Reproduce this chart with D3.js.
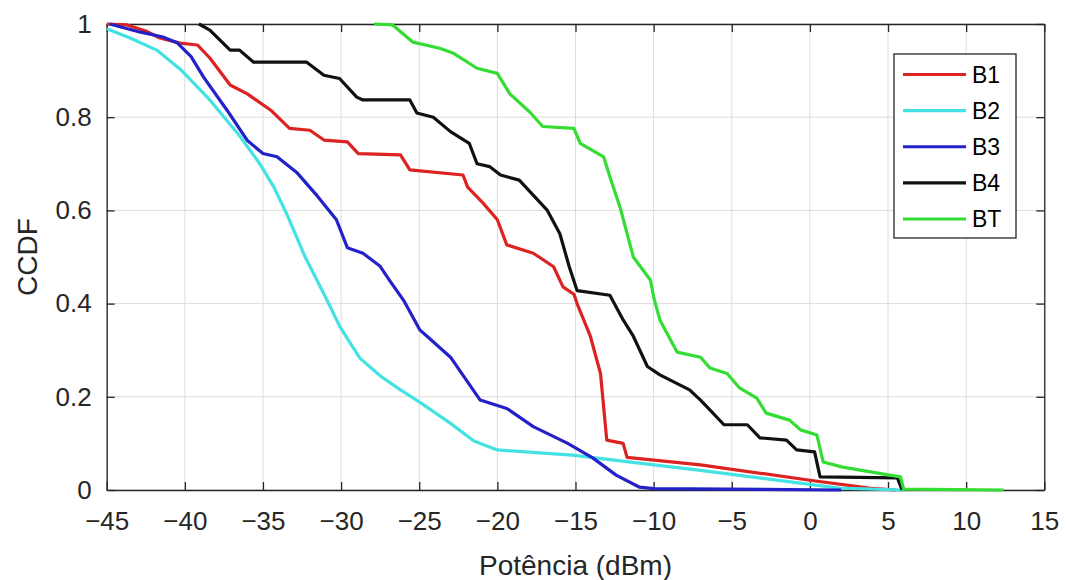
<!DOCTYPE html>
<html>
<head>
<meta charset="utf-8">
<script src="https://cdn.jsdelivr.net/npm/d3@7"></script>
<style>
  html, body { margin: 0; padding: 0; background: #fff; }
  svg { display: block; font-family: "Liberation Sans", Arial, Helvetica, sans-serif; }
</style>
</head>
<body>
<svg id="chart" width="1066" height="580"></svg>
<script>
/* ── Data ──────────────────────────────────────────────────── */
const xTicks = [-45, -40, -35, -30, -25, -20, -15, -10, -5, 0, 5, 10, 15];
const yTicks = [0, 0.2, 0.4, 0.6, 0.8, 1];
const yTickLabels = ['0', '0.2', '0.4', '0.6', '0.8', '1'];

const b1 = [[-45,1.0],[-43.7,0.998],[-42.5,0.985],[-41.6,0.97],[-40.3,0.959],[-39.2,0.955],[-38.4,0.927],
  [-37.1,0.869],[-36.0,0.85],[-34.5,0.815],[-33.3,0.776],[-32.0,0.772],[-31.1,0.751],[-29.6,0.747],
  [-28.9,0.722],[-26.2,0.719],[-25.6,0.687],[-22.2,0.676],[-21.9,0.65],[-20.9,0.615],[-20.0,0.58],
  [-19.4,0.526],[-17.7,0.508],[-16.4,0.479],[-15.8,0.436],[-15.1,0.42],[-14.9,0.40],[-14.05,0.33],
  [-13.4,0.25],[-13.0,0.107],[-11.95,0.10],[-11.7,0.07],[-7.0,0.054],[0,0.021],[3.8,0.004],[5.5,0.0]];

const b2 = [[-45,0.99],[-43.5,0.97],[-41.8,0.944],[-40.2,0.9],[-38.4,0.837],[-36.5,0.76],[-35.2,0.70],[-34.3,0.65],
  [-33.5,0.594],[-32.3,0.5],[-31.0,0.414],[-30.07,0.35],[-28.8,0.283],[-27.5,0.245],[-26.2,0.215],
  [-24.9,0.187],[-23.0,0.143],[-21.5,0.105],[-20.0,0.086],[-17.5,0.08],[-15.2,0.075],[-12,0.062],
  [-7.0,0.042],[-3,0.025],[0,0.012],[1.9,0.004],[6.0,0.0]];

const b3 = [[-44.8,1.0],[-42.9,0.983],[-41.4,0.972],[-40.5,0.96],[-39.6,0.93],[-38.8,0.886],[-37.3,0.815],
  [-36.0,0.75],[-35.0,0.722],[-34.1,0.715],[-32.8,0.68],[-31.5,0.63],[-30.3,0.58],[-29.6,0.52],
  [-28.6,0.508],[-27.5,0.48],[-26.9,0.45],[-26.0,0.407],[-24.95,0.343],[-24.5,0.33],[-23.0,0.285],
  [-21.1,0.193],[-19.4,0.175],[-17.7,0.136],[-15.5,0.10],[-13.9,0.069],[-12.4,0.032],[-10.9,0.006],
  [-10.0,0.003],[2.0,0.0]];

const b4 = [[-39.1,1.0],[-38.4,0.987],[-37.1,0.944],[-36.5,0.944],[-35.6,0.918],[-32.2,0.918],[-31.1,0.89],
  [-30.1,0.883],[-29.0,0.843],[-28.6,0.837],[-25.6,0.837],[-25.15,0.809],[-24.1,0.80],[-23.0,0.769],
  [-21.8,0.744],[-21.3,0.70],[-20.5,0.694],[-19.8,0.676],[-18.6,0.665],[-16.8,0.60],[-16.0,0.55],
  [-15.4,0.479],[-14.9,0.428],[-12.8,0.418],[-11.95,0.365],[-11.3,0.33],[-10.4,0.265],[-9.6,0.247],
  [-7.7,0.215],[-7.0,0.193],[-6.4,0.172],[-5.5,0.14],[-4.0,0.14],[-3.2,0.112],[-1.5,0.107],
  [-0.85,0.086],[0.3,0.082],[0.65,0.028],[5.6,0.026],[5.9,0.0]];

const bt = [[-27.9,1.0],[-26.7,0.998],[-25.4,0.961],[-23.7,0.948],[-22.8,0.937],[-21.3,0.905],[-20.0,0.894],
  [-19.2,0.85],[-17.9,0.81],[-17.1,0.78],[-15.1,0.776],[-14.7,0.744],[-13.2,0.715],[-12.8,0.672],
  [-12.15,0.607],[-11.3,0.50],[-10.2,0.45],[-10.0,0.414],[-9.6,0.365],[-8.5,0.296],[-7.0,0.285],
  [-6.4,0.262],[-5.3,0.25],[-4.5,0.219],[-3.4,0.197],[-2.8,0.165],[-1.3,0.15],[-0.6,0.129],
  [0.45,0.118],[0.85,0.06],[2.1,0.049],[5.1,0.032],[5.8,0.028],[6.0,0.002],[12.4,0.0]];

const seriesNames = ['B1', 'B2', 'B3', 'B4', 'BT'];
const seriesData = [b1, b2, b3, b4, bt];
const seriesColors = ['#dd2222', '#44e2e2', '#2222c8', '#111111', '#33dd33'];

/* ── Layout ────────────────────────────────────────────────── */
const M = { left: 106.7, right: 1044.3, top: 24, bottom: 490 };
const INK = '#262626';
const TICK = 8;

const svg = d3.select('#chart');
const x = d3.scaleLinear().domain([-45, 15]).range([M.left, M.right]);
const y = d3.scaleLinear().domain([0, 1]).range([M.bottom, M.top]);

// Grid
const grid = svg.append('g').attr('class', 'grid')
  .attr('stroke', '#dcdcdc').attr('stroke-width', 1);
grid.selectAll('line.gx').data(xTicks).enter().append('line')
  .attr('x1', d => x(d)).attr('x2', d => x(d))
  .attr('y1', M.top).attr('y2', M.bottom);
grid.selectAll('line.gy').data(yTicks).enter().append('line')
  .attr('x1', M.left).attr('x2', M.right)
  .attr('y1', d => y(d)).attr('y2', d => y(d));

// Axes (inward ticks, box on)
function styleAxis(g) {
  g.select('.domain').attr('stroke', INK).attr('stroke-width', 1.3);
  g.selectAll('.tick line').attr('stroke', INK).attr('stroke-width', 1.3);
  g.selectAll('.tick text').attr('fill', INK)
    .attr('font-size', 26).attr('font-family', 'Liberation Sans, Arial, sans-serif');
}

svg.append('g')
  .attr('transform', `translate(0,${M.bottom})`)
  .call(d3.axisBottom(x).tickValues(xTicks).tickSizeInner(-TICK).tickSizeOuter(0).tickPadding(22))
  .call(styleAxis);

svg.append('g')
  .attr('transform', `translate(0,${M.top})`)
  .call(d3.axisTop(x).tickValues(xTicks).tickSizeInner(-TICK).tickSizeOuter(0).tickFormat(''))
  .call(styleAxis);

svg.append('g')
  .attr('transform', `translate(${M.left},0)`)
  .call(d3.axisLeft(y).tickValues(yTicks).tickSizeInner(-TICK).tickSizeOuter(0).tickPadding(15)
    .tickFormat((d, i) => yTickLabels[i]))
  .call(styleAxis);

svg.append('g')
  .attr('transform', `translate(${M.right},0)`)
  .call(d3.axisRight(y).tickValues(yTicks).tickSizeInner(-TICK).tickSizeOuter(0).tickFormat(''))
  .call(styleAxis);

// Axis labels
svg.append('text')
  .attr('x', (M.left + M.right) / 2).attr('y', 575)
  .attr('text-anchor', 'middle').attr('font-size', 28).attr('fill', INK)
  .text('Potência (dBm)');

svg.append('text')
  .attr('transform', `translate(37,257) rotate(-90)`)
  .attr('text-anchor', 'middle').attr('font-size', 28).attr('fill', INK)
  .text('CCDF');

/* ── Curves ────────────────────────────────────────────────── */
const line = d3.line().x(d => x(d[0])).y(d => y(d[1]));
svg.append('g').selectAll('path').data(seriesData).enter().append('path')
  .attr('d', line)
  .attr('fill', 'none')
  .attr('stroke', (d, i) => seriesColors[i])
  .attr('stroke-width', 3.2)
  .attr('stroke-linejoin', 'round');

/* ── Legend ────────────────────────────────────────────────── */
const legend = svg.append('g').attr('class', 'legend');
legend.append('rect')
  .attr('x', 894).attr('y', 54).attr('width', 122).attr('height', 184)
  .attr('fill', '#fff').attr('stroke', INK).attr('stroke-width', 1.3);

const rowY = d3.scaleLinear().domain([0, 4]).range([74.5, 219]);
const rows = legend.selectAll('g.row').data(seriesNames).enter().append('g')
  .attr('transform', (d, i) => `translate(0,${rowY(i)})`);
rows.append('line')
  .attr('x1', 903).attr('x2', 966)
  .attr('stroke', (d, i) => seriesColors[i]).attr('stroke-width', 3.2);
rows.append('text')
  .attr('x', 972).attr('dy', '0.36em')
  .attr('font-size', 23).attr('fill', '#000')
  .text(d => d);
</script>
</body>
</html>
